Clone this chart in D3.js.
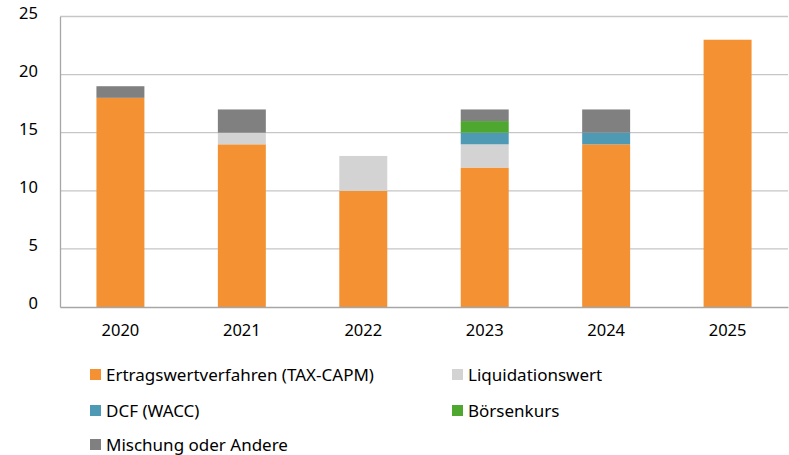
<!DOCTYPE html>
<html>
<head>
<meta charset="utf-8">
<script src="https://cdn.jsdelivr.net/npm/d3@7"></script>
<style>
  body { margin: 0; background: #fff; }
  svg text { font-family: "Noto Sans", sans-serif; fill: #000; }
</style>
</head>
<body>
<div id="chart"></div>
<script>
// Data
const years = ["2020", "2021", "2022", "2023", "2024", "2025"];
const seriesNames = ["Ertragswertverfahren (TAX-CAPM)", "Liquidationswert", "DCF (WACC)", "Börsenkurs", "Mischung oder Andere"];
const seriesColors = ["#f39133", "#d3d3d3", "#4e9ab5", "#4ea72e", "#808080"];
const ertragswert = [18, 14, 10, 12, 14, 23];
const liquidation = [0, 1, 3, 2, 0, 0];
const dcf = [0, 0, 0, 1, 1, 0];
const boerse = [0, 0, 0, 1, 0, 0];
const mischung = [1, 2, 0, 1, 2, 0];
const yTicks = [0, 5, 10, 15, 20, 25];

const W = 789, H = 455;
const mleft = 60, mright = 1, mtop = 16.5, plotBottom = 307;
const fontSize = "16.5px";

const svg = d3.select("#chart").append("svg")
    .attr("width", W)
    .attr("height", H);

// Build rows for the stack
const keys = ["ertragswert", "liquidation", "dcf", "boerse", "mischung"];
const cols = [ertragswert, liquidation, dcf, boerse, mischung];
const rows = years.map((y, i) => {
    let r = { year: y };
    keys.forEach((k, j) => r[k] = cols[j][i]);
    return r;
});
const stacked = d3.stack().keys(keys)(rows);

const x = d3.scaleBand()
    .domain(years)
    .range([mleft, W - mright])
    .paddingInner(0.605)
    .paddingOuter(0.3);

const y = d3.scaleLinear()
    .domain([0, 25])
    .range([plotBottom, mtop]);

// gridlines
svg.append("g")
    .selectAll("line")
    .data(yTicks.filter(d => d > 0))
    .join("line")
        .attr("x1", mleft)
        .attr("x2", W - mright)
        .attr("y1", d => y(d))
        .attr("y2", d => y(d))
        .attr("stroke", "#c6c6c6")
        .attr("stroke-width", 1.3);

// bars
svg.append("g")
    .selectAll("g")
    .data(stacked)
    .join("g")
        .attr("fill", (d, i) => seriesColors[i])
    .selectAll("rect")
    .data(d => d.filter(s => s[1] > s[0]))
    .join("rect")
        .attr("x", d => x(d.data.year))
        .attr("width", x.bandwidth())
        .attr("y", d => y(d[1]))
        .attr("height", d => y(d[0]) - y(d[1]));

// axes
const yAxis = svg.append("g")
    .attr("transform", `translate(${mleft},0)`)
    .call(d3.axisLeft(y).tickValues(yTicks).tickSize(0).tickPadding(22));
yAxis.select(".domain").attr("stroke", "#a6a6a6").attr("stroke-width", 1.3);
yAxis.selectAll("text").attr("font-size", fontSize).attr("font-family", "Noto Sans").attr("dy", "0.1em");

const xAxis = svg.append("g")
    .attr("transform", `translate(0,${plotBottom})`)
    .call(d3.axisBottom(x).tickSize(0).tickPadding(17));
xAxis.select(".domain").attr("stroke", "#a6a6a6").attr("stroke-width", 1.3);
xAxis.selectAll("text").attr("font-size", fontSize).attr("font-family", "Noto Sans");

// legend
const legendPos = [[90, 375], [452, 375], [90, 411], [452, 411], [90, 445]];
const legend = svg.append("g")
    .selectAll("g")
    .data(seriesNames)
    .join("g")
        .attr("transform", (d, i) => `translate(${legendPos[i][0]},${legendPos[i][1]})`);
legend.append("rect")
    .attr("x", 0)
    .attr("y", -6)
    .attr("width", 11)
    .attr("height", 11)
    .attr("fill", (d, i) => seriesColors[i]);
legend.append("text")
    .attr("x", 16)
    .attr("y", 0)
    .attr("dy", "0.35em")
    .attr("font-size", "17px")
    .text(d => d);
</script>
</body>
</html>
